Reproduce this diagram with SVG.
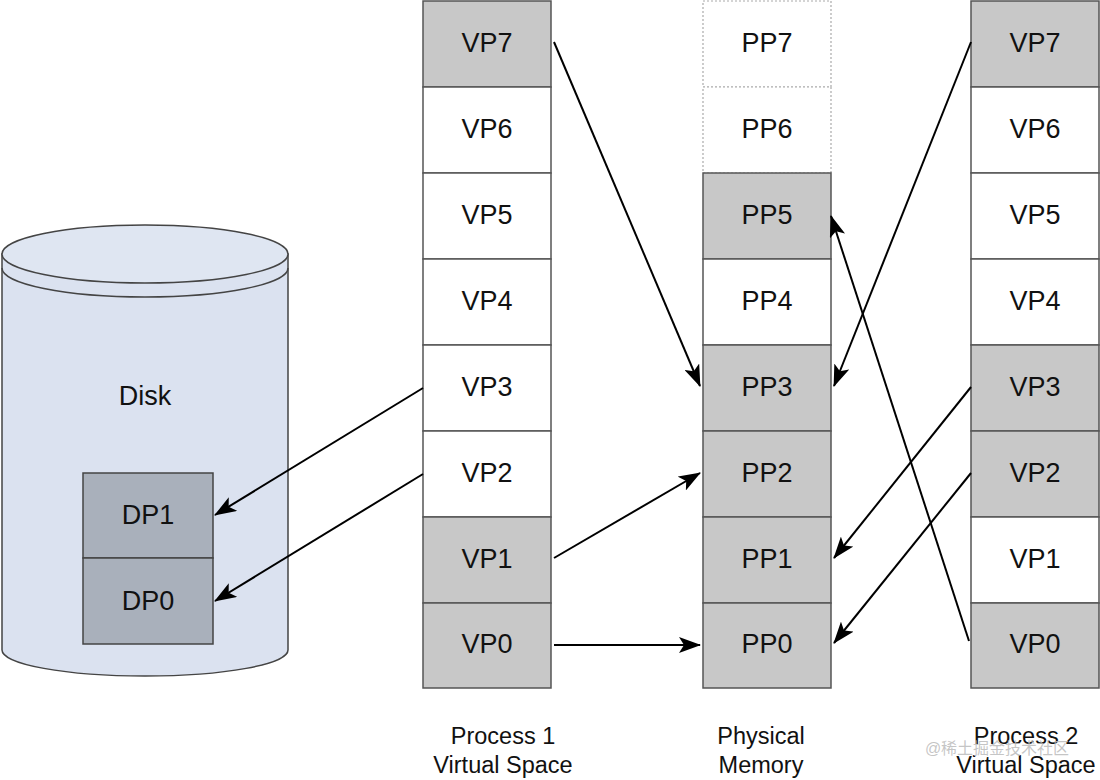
<svg xmlns="http://www.w3.org/2000/svg" width="1100" height="780" viewBox="0 0 1100 780">
<style>
.c{stroke:#555;stroke-width:1.5}
.w{fill:#fff}
.g{fill:#c8c8c8}
.d{fill:#fff;stroke:#aaa;stroke-width:1.2;stroke-dasharray:2 2}
.t{font-family:"Liberation Sans",Arial,sans-serif;font-size:27px;fill:#111;text-anchor:middle;dominant-baseline:central}
.l{font-family:"Liberation Sans",Arial,sans-serif;font-size:23.5px;fill:#111;text-anchor:middle}
.a{stroke:#000;stroke-width:2;fill:none;marker-end:url(#ah)}
</style>
<defs>
<marker id="ah" viewBox="0 0 22 16" refX="21" refY="8" markerWidth="22" markerHeight="16" markerUnits="userSpaceOnUse" orient="auto">
<path d="M0,0 L22,8 L0,16 L5,8 Z" fill="#000"/>
</marker>
</defs>
<rect width="1100" height="780" fill="#fff"/>
<g id="disk">
<path d="M2,254 L2,650 A143,26 0 0 0 288,650 L288,254 Z" fill="#dbe2f0" stroke="#444" stroke-width="1.5"/>
<ellipse cx="145" cy="254" rx="143" ry="29" fill="#dfe6f2" stroke="#444" stroke-width="1.5"/>
<path d="M2,268 A143,29 0 0 0 288,268" fill="none" stroke="#444" stroke-width="1.5"/>
<text class="t" x="145" y="396">Disk</text>
</g>
<g id="DP1"><rect x="83" y="473" width="130" height="85" fill="#a9b0bb" stroke="#444" stroke-width="1.5"/><text class="t" x="148" y="515">DP1</text></g>
<g id="DP0"><rect x="83" y="558" width="130" height="86" fill="#a9b0bb" stroke="#444" stroke-width="1.5"/><text class="t" x="148" y="601">DP0</text></g>

<g id="p1-VP7"><rect class="c g" x="423" y="1" width="128" height="86"/><text class="t" x="487" y="43">VP7</text></g>
<g id="p1-VP6"><rect class="c w" x="423" y="87" width="128" height="86"/><text class="t" x="487" y="129">VP6</text></g>
<g id="p1-VP5"><rect class="c w" x="423" y="173" width="128" height="86"/><text class="t" x="487" y="215">VP5</text></g>
<g id="p1-VP4"><rect class="c w" x="423" y="259" width="128" height="86"/><text class="t" x="487" y="301">VP4</text></g>
<g id="p1-VP3"><rect class="c w" x="423" y="345" width="128" height="86"/><text class="t" x="487" y="387">VP3</text></g>
<g id="p1-VP2"><rect class="c w" x="423" y="431" width="128" height="86"/><text class="t" x="487" y="473">VP2</text></g>
<g id="p1-VP1"><rect class="c g" x="423" y="517" width="128" height="86"/><text class="t" x="487" y="559">VP1</text></g>
<g id="p1-VP0"><rect class="c g" x="423" y="603" width="128" height="85"/><text class="t" x="487" y="644">VP0</text></g>

<g id="PP7"><rect class="d" x="703" y="1" width="128" height="86"/><text class="t" x="767" y="43">PP7</text></g>
<g id="PP6"><rect class="d" x="703" y="87" width="128" height="86"/><text class="t" x="767" y="129">PP6</text></g>
<g id="PP5"><rect class="c g" x="703" y="173" width="128" height="86"/><text class="t" x="767" y="215">PP5</text></g>
<g id="PP4"><rect class="c w" x="703" y="259" width="128" height="86"/><text class="t" x="767" y="301">PP4</text></g>
<g id="PP3"><rect class="c g" x="703" y="345" width="128" height="86"/><text class="t" x="767" y="387">PP3</text></g>
<g id="PP2"><rect class="c g" x="703" y="431" width="128" height="86"/><text class="t" x="767" y="473">PP2</text></g>
<g id="PP1"><rect class="c g" x="703" y="517" width="128" height="86"/><text class="t" x="767" y="559">PP1</text></g>
<g id="PP0"><rect class="c g" x="703" y="603" width="128" height="85"/><text class="t" x="767" y="644">PP0</text></g>

<g id="p2-VP7"><rect class="c g" x="971" y="1" width="128" height="86"/><text class="t" x="1035" y="43">VP7</text></g>
<g id="p2-VP6"><rect class="c w" x="971" y="87" width="128" height="86"/><text class="t" x="1035" y="129">VP6</text></g>
<g id="p2-VP5"><rect class="c w" x="971" y="173" width="128" height="86"/><text class="t" x="1035" y="215">VP5</text></g>
<g id="p2-VP4"><rect class="c w" x="971" y="259" width="128" height="86"/><text class="t" x="1035" y="301">VP4</text></g>
<g id="p2-VP3"><rect class="c g" x="971" y="345" width="128" height="86"/><text class="t" x="1035" y="387">VP3</text></g>
<g id="p2-VP2"><rect class="c g" x="971" y="431" width="128" height="86"/><text class="t" x="1035" y="473">VP2</text></g>
<g id="p2-VP1"><rect class="c w" x="971" y="517" width="128" height="86"/><text class="t" x="1035" y="559">VP1</text></g>
<g id="p2-VP0"><rect class="c g" x="971" y="603" width="128" height="85"/><text class="t" x="1035" y="644">VP0</text></g>

<g id="connectors">
<line class="a" x1="554" y1="42" x2="700" y2="386"/>
<line class="a" x1="554" y1="558" x2="700" y2="473"/>
<line class="a" x1="554" y1="645" x2="700" y2="645"/>
<line class="a" x1="423" y1="388" x2="215" y2="515"/>
<line class="a" x1="423" y1="474" x2="215" y2="601"/>
<line class="a" x1="971" y1="42" x2="834" y2="386"/>
<line class="a" x1="971" y1="387" x2="834" y2="558"/>
<line class="a" x1="971" y1="473" x2="834" y2="643"/>
<line class="a" x1="969" y1="641" x2="831" y2="216"/>
</g>

<g id="labels">
<text class="l" x="503" y="744">Process 1</text>
<text class="l" x="503" y="773">Virtual Space</text>
<text class="l" x="761" y="744">Physical</text>
<text class="l" x="761" y="773">Memory</text>
<text class="l" x="1026" y="744">Process 2</text>
<text class="l" x="1026" y="773">Virtual Space</text>
<text x="997" y="754" font-family="'Liberation Sans','Noto Sans CJK SC',sans-serif" font-size="16" fill="#bbb" fill-opacity="0.85" text-anchor="middle">@稀土掘金技术社区</text>
</g>
</svg>
